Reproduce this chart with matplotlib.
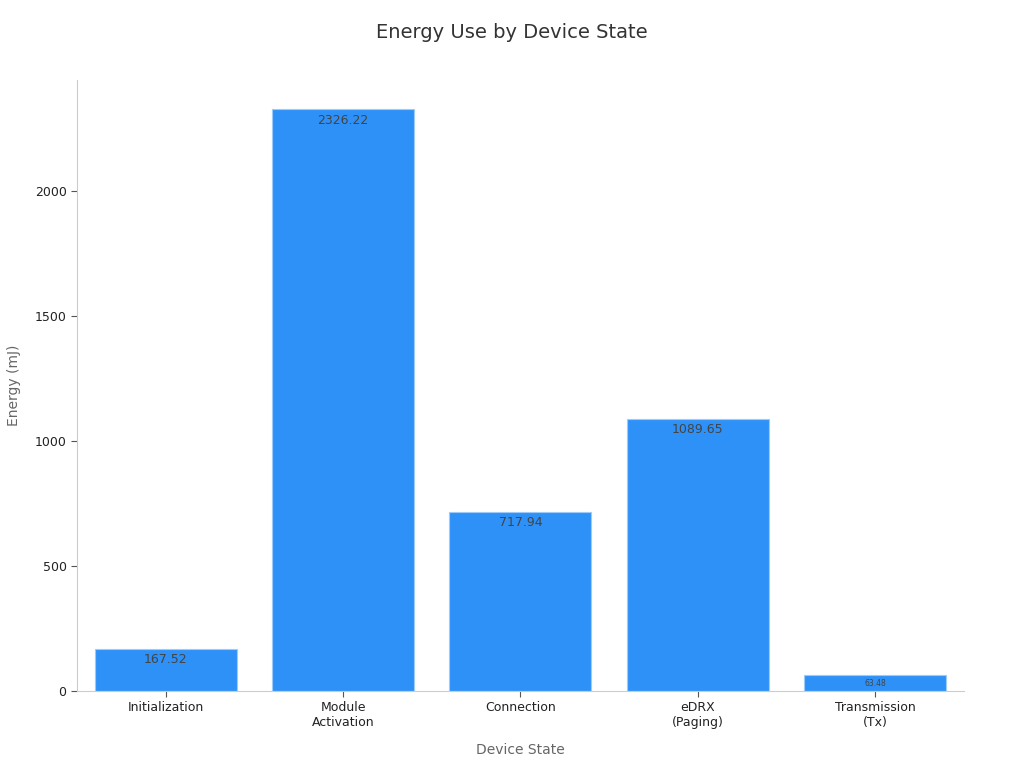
import matplotlib
matplotlib.use("Agg")
import matplotlib.pyplot as plt

states = ["Initialization", "Module\nActivation", "Connection", "eDRX\n(Paging)", "Transmission\n(Tx)"]
energy = [167.52, 2326.22, 717.94, 1089.65, 63.48]
label_sizes = [9, 9, 9, 9, 5.5]

fig = plt.figure(figsize=(10.24, 7.68), dpi=100)
ax = fig.add_axes([0.0752, 0.1003, 0.866, 0.7955])

x = list(range(len(states)))
bars = ax.bar(x, energy, width=0.8, color="#2E91F7", edgecolor="#9CCBFA", linewidth=0.8)

for b, v, fs in zip(bars, energy, label_sizes):
    ax.annotate(f"{v:.2f}", (b.get_x() + b.get_width() / 2, v),
                xytext=(0, -3), textcoords="offset points",
                ha="center", va="top", fontsize=fs, color="#444444")

ax.set_xlim(-0.5, 4.5)
ax.set_ylim(0, 2444)
ax.set_xticks(x)
ax.set_xticklabels(states, fontsize=9, color="#222222")
ax.set_yticks([0, 500, 1000, 1500, 2000])
ax.tick_params(axis="y", labelsize=9, labelcolor="#222222", color="#555555", length=4)
ax.tick_params(axis="x", color="#555555", length=4)

for s in ["top", "right"]:
    ax.spines[s].set_visible(False)
for s in ["left", "bottom"]:
    ax.spines[s].set_color("#cccccc")

ax.set_xlabel("Device State", fontsize=10, color="#666666", labelpad=10)
ax.set_ylabel("Energy (mJ)", fontsize=10, color="#666666", labelpad=10)
fig.suptitle("Energy Use by Device State", fontsize=14, color="#333333", y=0.97)

fig.savefig("out.png", dpi=100)
